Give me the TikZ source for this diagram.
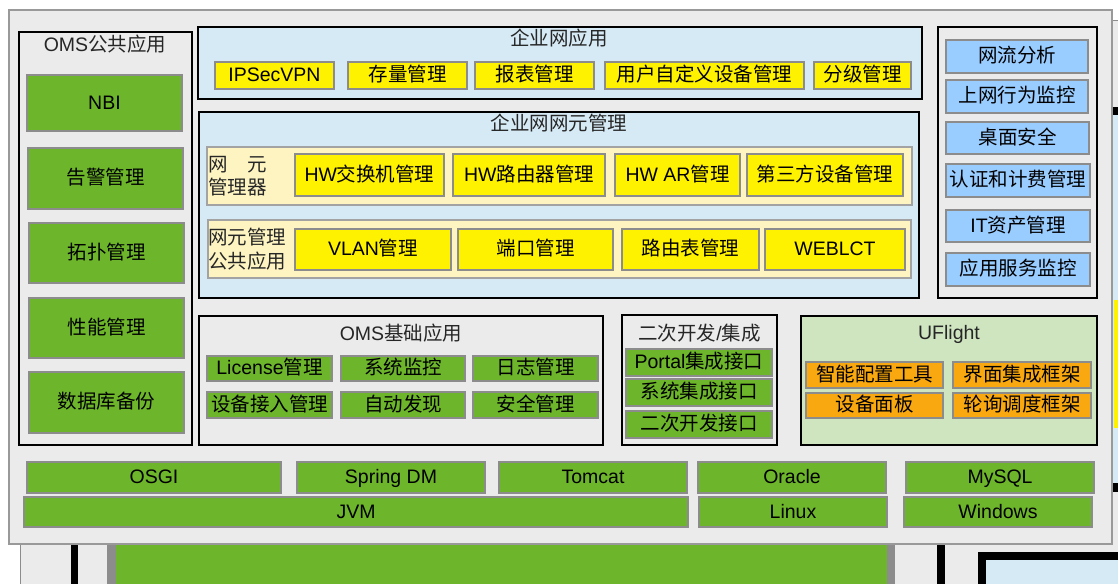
\documentclass[tikz,border=0pt]{standalone}
\usepackage{fontspec}
\setmainfont{Liberation Sans}
\newfontfamily\cjk{Noto Sans CJK SC}
\newcommand{\zh}[1]{{\cjk #1}}
\definecolor{panelgray}{HTML}{EBEBEB}
\definecolor{netblue}{HTML}{D6EAF5}
\definecolor{creambg}{HTML}{FDF4C2}
\definecolor{boxgreen}{HTML}{6DB52B}
\definecolor{boxblue}{HTML}{99CCFF}
\definecolor{boxorange}{HTML}{F9A90F}
\definecolor{ufgreen}{HTML}{CEE5C0}
\definecolor{edgegray}{HTML}{8C8C8C}
\tikzset{
	basebox/.style={inner sep=0pt, outer sep=0pt, font=\fontsize{19.5}{23}\selectfont, text=black}
}
\tikzset{
	groupbox/.style={basebox, draw=black, line width=1.5pt, fill=panelgray},
	netbox/.style={groupbox, fill=netblue},
	ufbox/.style={groupbox, fill=ufgreen},
	creambox/.style={basebox, draw=edgegray!80, line width=1.5pt, fill=creambg},
	flatbox/.style={basebox, text height=15pt, text depth=3pt, line width=2pt, draw=edgegray},
	ybox/.style={flatbox, fill=yellow},
	gbox/.style={flatbox, fill=boxgreen},
	bbox/.style={flatbox, fill=boxblue},
	obox/.style={flatbox, fill=boxorange},
	titletext/.style={basebox, text height=15pt, text depth=3pt, text=black!85},
	sidelabel/.style={basebox, anchor=west, align=left, text=black!85}
}

\begin{document}
\begin{tikzpicture}[x=1pt, y=-1pt]
      \useasboundingbox (0,0) rectangle (1118,584);
      % bits of the picture lying behind the panel
      \fill[panelgray] (20,20) rectangle (1118,584);
      \draw[edgegray, line width=1pt] (20,584) -- (20,20) -- (1118,20);
      \fill[black] (1112,107) rectangle (1118,115);
      \fill[netblue] (1112,115) rectangle (1118,483);
      \fill[yellow] (1114,300) rectangle (1118,428);
      \fill[black] (1112,483) rectangle (1118,492);
      \fill[black] (71,544) rectangle (78,584);
      \fill[edgegray] (107,544) rectangle (895,584);
      \fill[boxgreen] (116,544) rectangle (887,584);
      \fill[black] (937,544) rectangle (945,584);
      \fill[black] (978,552) rectangle (1118,584);
      \fill[netblue] (986,560) rectangle (1118,584);

      % main panel
      \node[basebox, draw=gray!80, line width=1.2pt, fill=panelgray, minimum width=1103pt, minimum height=534pt] (panel) at (560.5,277) {};

      % OMS public applications
      \node[groupbox, minimum width=173pt, minimum height=413pt] (omspub) at (105.5,238.5) {};
      \node[titletext] (omspubtitle) at (105,45) {OMS\zh{公共应用}};
      \node[gbox, minimum width=155pt, minimum height=56pt] (nbi) at (104.5,103) {NBI};
      \node[gbox, minimum width=155pt, minimum height=61pt] (alarm) at (105.5,178.5) {\zh{告警管理}};
      \node[gbox, minimum width=155pt, minimum height=60pt] (topo) at (106.5,253) {\zh{拓扑管理}};
      \node[gbox, minimum width=155pt, minimum height=60pt] (perf) at (106.5,328) {\zh{性能管理}};
      \node[gbox, minimum width=155pt, minimum height=61pt] (dbbak) at (106.5,402.5) {\zh{数据库备份}};

      % enterprise network applications
      \node[netbox, minimum width=724pt, minimum height=72pt] (entapp) at (560,63) {};
      \node[titletext] (entapptitle) at (559,39) {\zh{企业网应用}};
      \node[ybox, minimum width=119pt, minimum height=27pt] (ipsec) at (274.5,75.5) {IPSecVPN};
      \node[ybox, minimum width=119pt, minimum height=27pt] (stock) at (407.5,75.5) {\zh{存量管理}};
      \node[ybox, minimum width=119pt, minimum height=27pt] (report) at (534.5,75.5) {\zh{报表管理}};
      \node[ybox, minimum width=199pt, minimum height=27pt] (custdev) at (704.5,75.5) {\zh{用户自定义设备管理}};
      \node[ybox, minimum width=97pt, minimum height=27pt] (grade) at (862.5,75.5) {\zh{分级管理}};

      % enterprise network element management
      \node[netbox, minimum width=720pt, minimum height=186pt] (entne) at (559,205) {};
      \node[titletext] (entnetitle) at (559,124) {\zh{企业网网元管理}};
      \node[creambox, minimum width=705pt, minimum height=58pt] (nemgr) at (559.5,176) {};
      \node[sidelabel] (nemgrlabel) at (208,176.5) {\zh{网\hspace{1em}元}\\\zh{管理器}};
      \node[ybox, minimum width=149pt, minimum height=42pt] (hwswitch) at (369.5,175) {HW\zh{交换机管理}};
      \node[ybox, minimum width=152pt, minimum height=42pt] (hwrouter) at (529,175) {HW\zh{路由器管理}};
      \node[ybox, minimum width=125pt, minimum height=42pt] (hwar) at (677.5,175) {HW AR\zh{管理}};
      \node[ybox, minimum width=156pt, minimum height=42pt] (thirdp) at (825,175) {\zh{第三方设备管理}};
      \node[creambox, minimum width=703pt, minimum height=58pt] (nepub) at (559.5,249) {};
      \node[sidelabel] (nepublabel) at (208,249.5) {\zh{网元管理}\\[1pt]\zh{公共应用}};
      \node[ybox, minimum width=156pt, minimum height=41pt] (vlan) at (373,249.5) {VLAN\zh{管理}};
      \node[ybox, minimum width=155pt, minimum height=41pt] (port) at (535.5,249.5) {\zh{端口管理}};
      \node[ybox, minimum width=137pt, minimum height=41pt] (route) at (690.5,249.5) {\zh{路由表管理}};
      \node[ybox, minimum width=140pt, minimum height=41pt] (weblct) at (835,249.5) {WEBLCT};

      % right column
      \node[groupbox, minimum width=159pt, minimum height=271pt] (rightcol) at (1017.5,162.5) {};
      \node[bbox, minimum width=142pt, minimum height=33pt] (flow) at (1017,56.5) {\zh{网流分析}};
      \node[bbox, minimum width=142pt, minimum height=33pt] (surf) at (1017,96.5) {\zh{上网行为监控}};
      \node[bbox, minimum width=143pt, minimum height=32pt] (desk) at (1017.5,138) {\zh{桌面安全}};
      \node[bbox, minimum width=144pt, minimum height=33pt] (auth) at (1018,180.5) {\zh{认证和计费管理}};
      \node[bbox, minimum width=144pt, minimum height=32pt] (itasset) at (1018,226) {IT\zh{资产管理}};
      \node[bbox, minimum width=144pt, minimum height=33pt] (appmon) at (1018,269.5) {\zh{应用服务监控}};

      % OMS basic applications
      \node[groupbox, minimum width=404pt, minimum height=129pt] (omsbase) at (401,380.5) {};
      \node[titletext] (omsbasetitle) at (401,334) {OMS\zh{基础应用}};
      \node[gbox, minimum width=125pt, minimum height=25pt] (license) at (269.5,368.5) {License\zh{管理}};
      \node[gbox, minimum width=124pt, minimum height=25pt] (sysmon) at (403,368.5) {\zh{系统监控}};
      \node[gbox, minimum width=125pt, minimum height=25pt] (logmgr) at (535.5,368.5) {\zh{日志管理}};
      \node[gbox, minimum width=125pt, minimum height=26pt] (devacc) at (269.5,405) {\zh{设备接入管理}};
      \node[gbox, minimum width=124pt, minimum height=26pt] (autodisc) at (403,405) {\zh{自动发现}};
      \node[gbox, minimum width=125pt, minimum height=26pt] (secmgr) at (535.5,405) {\zh{安全管理}};

      % secondary development / integration
      \node[groupbox, minimum width=155pt, minimum height=130pt] (devint) at (699.5,380) {};
      \node[titletext] (devinttitle) at (699.5,334) {\zh{二次开发}/\zh{集成}};
      \node[gbox, minimum width=146pt, minimum height=27pt] (portal) at (699,362.5) {Portal\zh{集成接口}};
      \node[gbox, minimum width=146pt, minimum height=27pt] (sysint) at (699,392.5) {\zh{系统集成接口}};
      \node[gbox, minimum width=146pt, minimum height=27pt] (devapi) at (699,424.5) {\zh{二次开发接口}};

      % UFlight
      \node[ufbox, minimum width=296pt, minimum height=129pt] (uflight) at (949,380.5) {};
      \node[titletext] (uflighttitle) at (949,333) {UFlight};
      \node[obox, minimum width=137pt, minimum height=26pt] (smartcfg) at (874.5,375) {\zh{智能配置工具}};
      \node[obox, minimum width=138pt, minimum height=26pt] (uiframe) at (1022,375) {\zh{界面集成框架}};
      \node[obox, minimum width=137pt, minimum height=25pt] (devpanel) at (874.5,405.5) {\zh{设备面板}};
      \node[obox, minimum width=138pt, minimum height=25pt] (pollframe) at (1022,405.5) {\zh{轮询调度框架}};

      % platform rows
      \node[gbox, minimum width=254pt, minimum height=31pt] (osgi) at (154,477.5) {OSGI};
      \node[gbox, minimum width=188pt, minimum height=31pt] (springdm) at (391,477.5) {Spring DM};
      \node[gbox, minimum width=188pt, minimum height=31pt] (tomcat) at (593,477.5) {Tomcat};
      \node[gbox, minimum width=188pt, minimum height=31pt] (oracle) at (792,477.5) {Oracle};
      \node[gbox, minimum width=188pt, minimum height=31pt] (mysql) at (1000,477.5) {MySQL};
      \node[gbox, minimum width=664pt, minimum height=30pt] (jvm) at (356,512) {JVM};
      \node[gbox, minimum width=188pt, minimum height=30pt] (linux) at (793,512) {Linux};
      \node[gbox, minimum width=188pt, minimum height=30pt] (windows) at (998,512) {Windows};
    \end{tikzpicture}
\end{document}
